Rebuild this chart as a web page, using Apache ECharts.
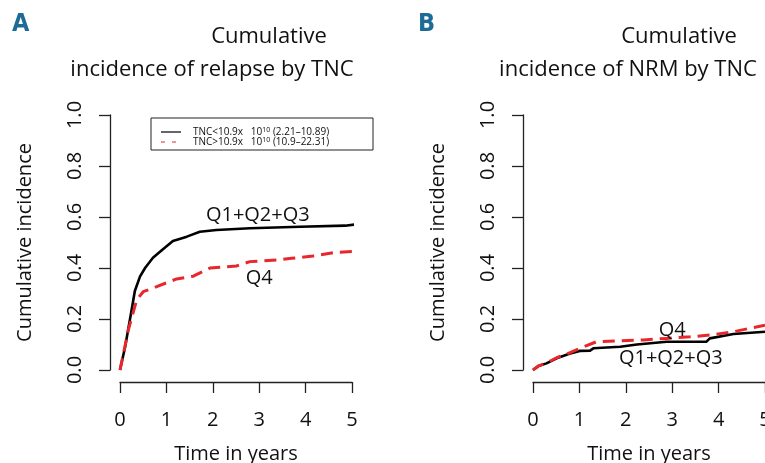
<!DOCTYPE html>
<html>
<head>
<meta charset="utf-8">
<script src="https://cdn.jsdelivr.net/npm/echarts@6/dist/echarts.min.js"></script>
<style>
  html, body { margin: 0; padding: 0; background: #fff; }
  #chart { width: 765px; height: 463px; }
</style>
</head>
<body>
<div id="chart"></div>
<script>
// panel A: cumulative incidence of relapse
var relapseTimeLow = [0, 0.11, 0.25, 0.32, 0.43, 0.54, 0.71, 0.90, 1.14, 1.44, 1.72, 2.08, 2.80, 3.88, 4.85, 4.89, 5.17]
var relapseLow = [0, 0.09, 0.235, 0.31, 0.366, 0.40, 0.44, 0.47, 0.506, 0.523, 0.542, 0.549, 0.556, 0.562, 0.566, 0.573, 0.573]
var relapseTimeHigh = [0, 0.18, 0.36, 0.50, 0.79, 1.22, 1.58, 1.94, 2.51, 2.80, 3.38, 3.70, 4.16, 4.60, 5.17]
var relapseHigh = [0, 0.157, 0.275, 0.307, 0.327, 0.357, 0.368, 0.40, 0.408, 0.425, 0.431, 0.438, 0.447, 0.46, 0.467]

// panel B: cumulative incidence of NRM
var nrmTimeLow = [0, 0.12, 0.29, 0.51, 0.80, 1.01, 1.23, 1.30, 1.88, 2.24, 2.88, 3.74, 3.81, 4.32, 5.0]
var nrmLow = [0, 0.016, 0.026, 0.046, 0.065, 0.075, 0.076, 0.085, 0.091, 0.10, 0.111, 0.111, 0.124, 0.141, 0.15]
var nrmTimeHigh = [0, 0.12, 0.29, 0.51, 0.73, 1.01, 1.37, 1.88, 2.38, 2.88, 3.38, 3.81, 4.32, 5.0]
var nrmHigh = [0, 0.016, 0.028, 0.048, 0.063, 0.085, 0.111, 0.114, 0.118, 0.124, 0.13, 0.137, 0.15, 0.176]

var xTicks = [0, 1, 2, 3, 4, 5]
var yTicks = [0, 0.2, 0.4, 0.6, 0.8, 1.0]

var FONT = '"Open Sans", sans-serif'
var RED = '#e8262b'

function pairs(ts, vs) {
	return ts.map(function (t, i) { return [t, vs[i]] })
}

function xAxisFor(grid) {
	return {
		type: 'value', gridIndex: grid, min: xTicks[0], max: xTicks[xTicks.length - 1], interval: 1,
		offset: 12,
		name: 'Time in years', nameLocation: 'middle', nameGap: 62,
		nameTextStyle: { fontFamily: FONT, fontSize: 20, color: '#111' },
		axisLine: { show: true, onZero: false, lineStyle: { color: '#222', width: 1.3 } },
		axisTick: { show: true, length: 11, lineStyle: { color: '#222', width: 1.3 } },
		axisLabel: { margin: 28, fontFamily: FONT, fontSize: 20, color: '#111' },
		splitLine: { show: false }
	}
}

function yAxisFor(grid) {
	return {
		type: 'value', gridIndex: grid, min: yTicks[0], max: yTicks[yTicks.length - 1], interval: 0.2,
		offset: 10,
		name: 'Cumulative incidence', nameLocation: 'middle', nameGap: 75,
		nameTextStyle: { fontFamily: FONT, fontSize: 20, color: '#111' },
		axisLine: { show: true, onZero: false, lineStyle: { color: '#222', width: 1.3 } },
		axisTick: { show: true, length: 11, lineStyle: { color: '#222', width: 1.3 } },
		axisLabel: {
			rotate: 90, margin: 25, fontFamily: FONT, fontSize: 20, color: '#111',
			formatter: function (v) { return v.toFixed(1) }
		},
		splitLine: { show: false }
	}
}

function curve(grid, data, dashed, labels) {
	var s = {
		type: 'line', xAxisIndex: grid, yAxisIndex: grid, data: data,
		showSymbol: false, symbol: 'none', clip: false, silent: true,
		lineStyle: dashed
			? { color: RED, width: 3, type: [12, 7] }
			: { color: '#000', width: 2.6 },
		z: dashed ? 3 : 2
	}
	if (labels) {
		s.markPoint = {
			symbol: 'circle', symbolSize: 0, silent: true,
			label: { show: true, position: 'inside', formatter: '{b}', fontFamily: FONT, fontSize: 20, color: '#111' },
			data: labels
		}
	}
	return s
}

var chart = echarts.init(document.getElementById('chart'), null, { renderer: 'canvas' })

var option = {
	animation: false,
	backgroundColor: '#fff',
	grid: [
		{ left: 120, top: 115, width: 232, height: 255, containLabel: false, outerBoundsMode: 'none' },
		{ left: 533, top: 115, width: 232, height: 255, containLabel: false, outerBoundsMode: 'none' }
	],
	xAxis: [xAxisFor(0), xAxisFor(1)],
	yAxis: [yAxisFor(0), yAxisFor(1)],
	series: [
		curve(0, pairs(relapseTimeLow, relapseLow), false, [{ name: 'Q1+Q2+Q3', coord: [2.97, 0.608] }]),
		curve(0, pairs(relapseTimeHigh, relapseHigh), true, [{ name: 'Q4', coord: [3.0, 0.36] }]),
		curve(1, pairs(nrmTimeLow, nrmLow), false, [{ name: 'Q1+Q2+Q3', coord: [2.97, 0.047] }]),
		curve(1, pairs(nrmTimeHigh, nrmHigh), true, [{ name: 'Q4', coord: [3.0, 0.157] }])
	],
	graphic: [
		// panel letters
		{ type: 'text', left: 12, top: 12, style: { text: 'A', fontFamily: '"Liberation Sans Narrow", "DejaVu Sans Condensed", sans-serif', fontWeight: 'bold', fontSize: 25, fill: '#1d6b97' } },
		{ type: 'text', left: 418, top: 12, style: { text: 'B', fontFamily: '"Liberation Sans Narrow", "DejaVu Sans Condensed", sans-serif', fontWeight: 'bold', fontSize: 25, fill: '#1d6b97' } },
		// titles
		{ type: 'text', x: 269, y: 37, style: { text: 'Cumulative', align: 'center', verticalAlign: 'middle', fontFamily: FONT, fontSize: 22, fill: '#111' } },
		{ type: 'text', x: 212, y: 70, style: { text: 'incidence of relapse by TNC', align: 'center', verticalAlign: 'middle', fontFamily: FONT, fontSize: 22, fill: '#111' } },
		{ type: 'text', x: 679, y: 37, style: { text: 'Cumulative', align: 'center', verticalAlign: 'middle', fontFamily: FONT, fontSize: 22, fill: '#111' } },
		{ type: 'text', x: 628, y: 70, style: { text: 'incidence of NRM by TNC', align: 'center', verticalAlign: 'middle', fontFamily: FONT, fontSize: 22, fill: '#111' } },
		// legend box
		{ type: 'rect', shape: { x: 151, y: 118, width: 222, height: 32 }, style: { fill: '#fff', stroke: '#222', lineWidth: 1 }, z: 10 },
		{ type: 'line', shape: { x1: 161, y1: 132, x2: 181, y2: 132 }, style: { stroke: '#000', lineWidth: 1.2 }, z: 11 },
		{ type: 'line', shape: { x1: 161, y1: 142, x2: 181, y2: 142 }, style: { stroke: RED, lineWidth: 1.2, lineDash: [4, 7] }, z: 11 },
		{
			type: 'text', x: 193, y: 132, z: 11,
			style: {
				text: '{a|TNC<10.9x   10}{s|10}{a| (2.21\u201310.89)}', verticalAlign: 'middle',
				rich: { a: { fontFamily: FONT, fontSize: 10, fill: '#111' }, s: { fontFamily: FONT, fontSize: 7, fill: '#111', verticalAlign: 'top', padding: [0, 0, 5, 0] } }
			}
		},
		{
			type: 'text', x: 193, y: 142, z: 11,
			style: {
				text: '{a|TNC>10.9x   10}{s|10}{a| (10.9\u201322.31)}', verticalAlign: 'middle',
				rich: { a: { fontFamily: FONT, fontSize: 10, fill: '#111' }, s: { fontFamily: FONT, fontSize: 7, fill: '#111', verticalAlign: 'top', padding: [0, 0, 5, 0] } }
			}
		}
	]
}

chart.setOption(option, true)
</script>
</body>
</html>
